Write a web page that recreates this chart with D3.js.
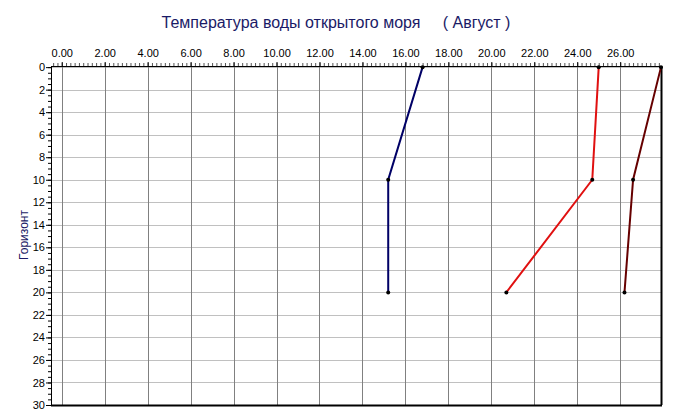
<!DOCTYPE html>
<html><head><meta charset="utf-8">
<script src="https://cdn.jsdelivr.net/npm/d3@7/dist/d3.min.js"></script>
<style>body{margin:0;background:#fff}svg{display:block}text{font-family:"Liberation Sans",Arial,sans-serif}</style>
</head><body><svg id="c" width="675" height="419"></svg>
<script>
const depths = [0, 10, 20];
const seriesBlue = [16.8, 15.2, 15.2];
const seriesRed = [25.0, 24.7, 20.7];
const seriesDark = [27.9, 26.6, 26.2];
const xTicks = [0,2,4,6,8,10,12,14,16,18,20,22,24,26];
const yTicks = [0,2,4,6,8,10,12,14,16,18,20,22,24,26,28,30];
const title = "Температура воды открытого моря     ( Август )";
const yLabel = "Горизонт";

const svg = d3.select("#c");
const L=51, R=661, T=66, B=405;
const x = d3.scaleLinear().domain([-0.5, 27.9]).range([L, R]);
const y = d3.scaleLinear().domain([-0.1, 30]).range([T, B]);

// grid
svg.append("g").selectAll("line").data(yTicks).join("line")
  .attr("x1",L).attr("x2",R).attr("y1",d=>Math.round(y(d))+0.5).attr("y2",d=>Math.round(y(d))+0.5)
  .attr("stroke","#c0c0c0").attr("stroke-width",1);
svg.append("g").selectAll("line").data(xTicks).join("line")
  .attr("y1",T).attr("y2",B).attr("x1",d=>Math.round(x(d))+0.5).attr("x2",d=>Math.round(x(d))+0.5)
  .attr("stroke","#808080").attr("stroke-width",1);

// axes
const xMinor = d3.range(-0.4, 27.9, 0.2);
const topAxis = d3.axisTop(x).tickValues(xMinor).tickSize(3).tickFormat("");
svg.append("g").attr("transform",`translate(0,${T})`).call(topAxis)
  .call(g=>g.select(".domain").remove())
  .call(g=>g.selectAll("line").attr("stroke","#555"));
const topMajor = d3.axisTop(x).tickValues(xTicks).tickSize(4).tickFormat(d3.format(".2f"));
svg.append("g").attr("transform",`translate(0,${T})`).call(topMajor)
  .call(g=>g.select(".domain").remove())
  .call(g=>g.selectAll("line").attr("stroke","#000"))
  .call(g=>g.selectAll("text").attr("fill","#000").attr("font-size",11).attr("y",-9)
     .attr("font-family","Liberation Sans, Arial, sans-serif"));

const yMinor = d3.range(0, 30.01, 0.5);
const leftAxis = d3.axisLeft(y).tickValues(yMinor).tickSize(3).tickFormat("");
svg.append("g").attr("transform",`translate(${L},0)`).call(leftAxis)
  .call(g=>g.select(".domain").remove())
  .call(g=>g.selectAll("line").attr("stroke","#000"));
const leftMajor = d3.axisLeft(y).tickValues(yTicks).tickSize(5).tickFormat(d3.format("d"));
svg.append("g").attr("transform",`translate(${L},0)`).call(leftMajor)
  .call(g=>g.select(".domain").remove())
  .call(g=>g.selectAll("line").attr("stroke","#000"))
  .call(g=>g.selectAll("text").attr("fill","#000").attr("font-size",11).attr("x",-6)
     .attr("font-family","Liberation Sans, Arial, sans-serif"));

// border
svg.append("line").attr("x1",L).attr("x2",R).attr("y1",T+0.5).attr("y2",T+0.5).attr("stroke","#000");
svg.append("line").attr("x1",L).attr("x2",R+1).attr("y1",B+0.5).attr("y2",B+0.5).attr("stroke","#000").attr("stroke-width",2);
svg.append("line").attr("x1",R+0.5).attr("x2",R+0.5).attr("y1",T).attr("y2",B).attr("stroke","#000").attr("stroke-width",2);
svg.append("line").attr("x1",L+0.5).attr("x2",L+0.5).attr("y1",T).attr("y2",B).attr("stroke","#000");

// series
const series = [
  {vals: seriesBlue, color: "#000066"},
  {vals: seriesRed, color: "#e01010"},
  {vals: seriesDark, color: "#660000"}
];
const line = d3.line().x(d=>x(d[0])).y(d=>y(d[1]));
series.forEach(s=>{
  const pts = s.vals.map((v,i)=>[v, depths[i]]);
  svg.append("path").attr("d",line(pts)).attr("fill","none").attr("stroke",s.color).attr("stroke-width",2);
  svg.append("g").selectAll("circle").data(pts).join("circle")
    .attr("cx",d=>x(d[0])).attr("cy",d=>y(d[1])).attr("r",2).attr("fill","#000");
});

// title
svg.append("text").attr("x",336).attr("y",28).attr("text-anchor","middle").attr("font-size",16)
  .attr("fill","#1a1a66").style("white-space","pre").text(title);
svg.append("text").attr("transform","translate(28,235) rotate(-90)").attr("text-anchor","middle")
  .attr("font-size",12).attr("fill","#1a1a66").text(yLabel);
</script></body></html>
